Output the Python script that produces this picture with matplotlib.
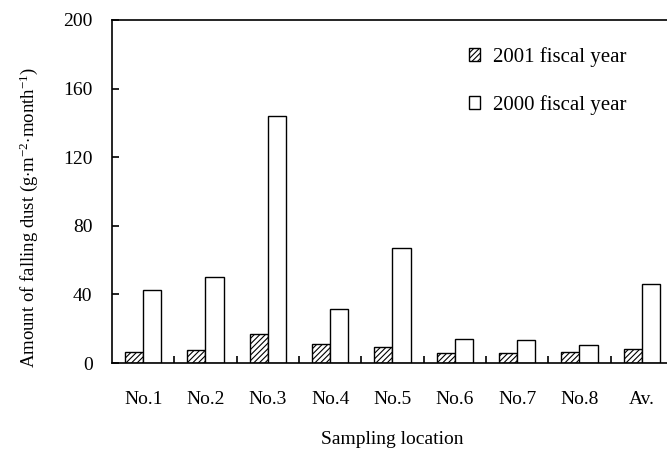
import matplotlib
matplotlib.use("Agg")
import matplotlib.pyplot as plt
import numpy as np

categories = ["No.1", "No.2", "No.3", "No.4", "No.5", "No.6", "No.7", "No.8", "Av."]
fy2001 = [6.2, 7.4, 16.9, 11.3, 9.3, 6.0, 5.6, 6.6, 8.0]
fy2000 = [42.7, 50.3, 144.0, 31.7, 67.0, 14.2, 13.4, 10.7, 46.2]
yticks = [0, 40, 80, 120, 160, 200]

plt.rcParams['font.family'] = ['Liberation Serif', 'DejaVu Serif']
plt.rcParams['mathtext.fontset'] = 'custom'
plt.rcParams['mathtext.rm'] = 'Liberation Serif'
plt.rcParams['mathtext.it'] = 'Liberation Serif:italic'
plt.rcParams['hatch.linewidth'] = 0.8

W, H = 667, 457
fig = plt.figure(figsize=(W/100, H/100), dpi=100)
left, right, top, bottom = 112, 673, 20, 363
ax = fig.add_axes([left/W, (H-bottom)/H, (right-left)/W, (bottom-top)/H])

x = np.arange(len(categories))
w = 0.29
ax.bar(x - w/2, fy2001, w, facecolor='white', edgecolor='black', hatch='//////',
       linewidth=1.0, label='2001 fiscal year')
ax.bar(x + w/2, fy2000, w, facecolor='white', edgecolor='black',
       linewidth=1.0, label='2000 fiscal year')

ax.set_xlim(-0.5, len(categories) - 0.5)
ax.set_ylim(0, 200)
ax.set_yticks(yticks)
ax.set_xticks(x)
ax.set_xticklabels(categories)
ax.set_xticks(np.arange(0.5, len(categories) - 0.5, 1), minor=True)
ax.tick_params(axis='x', which='major', length=0, pad=20, labelsize=14)
ax.tick_params(axis='x', which='minor', direction='in', length=5, width=1.2)
ax.tick_params(axis='y', direction='in', length=5, width=1.2, pad=14, labelsize=14)
for s in ax.spines.values():
    s.set_linewidth(1.2)

ax.set_xlabel('Sampling location', fontsize=14, labelpad=17)
ax.set_ylabel(r'Amount of falling dust (g$\cdot$m$^{-2}$$\cdot$month$^{-1}$)',
              fontsize=13.5)
ax.yaxis.set_label_coords(-0.128, 0.425)

leg = ax.legend(loc='upper left', bbox_to_anchor=(469/W, (H-47)/H),
                bbox_transform=fig.transFigure, frameon=False, fontsize=15,
                handlelength=0.55, handleheight=0.55, handletextpad=0.6,
                labelspacing=1.35, borderpad=0, borderaxespad=0)

fig.savefig('out.png', dpi=100)
